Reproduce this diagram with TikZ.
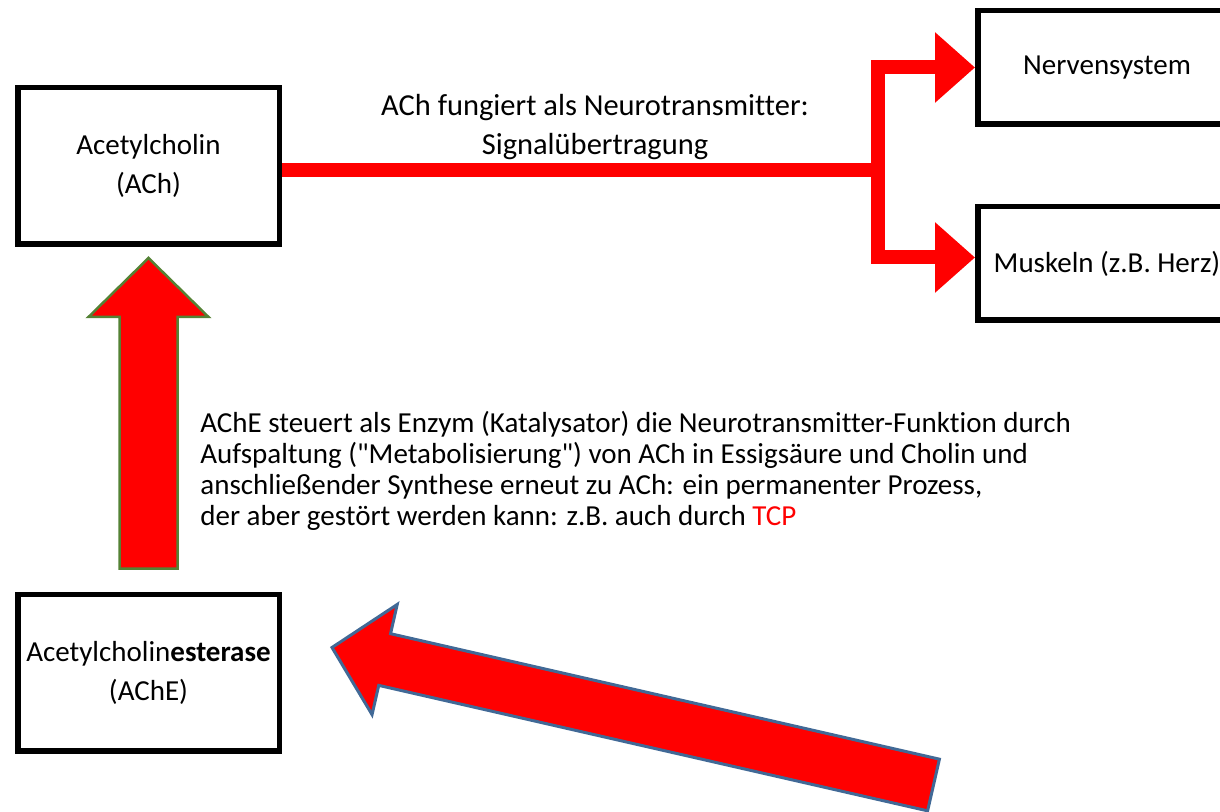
\documentclass[tikz,border=0pt]{standalone}
\usepackage{fontspec}
\setmainfont{Carlito}[Ligatures={TeX,NoCommon}]
\usetikzlibrary{arrows.meta}
\usetikzlibrary{calc}
\definecolor{leafgreen}{RGB}{84,130,53}
\definecolor{slateblue}{RGB}{65,105,150}

\begin{document}
\begin{tikzpicture}[x=0.5pt, y=-0.5pt,
	every node/.style={font=\fontsize{14.5}{19.5}\selectfont},
	box/.style={draw, line width=2.75pt, align=center, inner sep=0pt, minimum width=130.75pt, minimum height=78.25pt},
	organ/.style={box, minimum width=129.25pt, minimum height=56.75pt},
	signal/.style={draw=red, line width=7pt, line join=miter, -{Triangle[width=34pt,length=20pt]}},
	blockarrow/.style={fill=red, line join=miter}]
	\useasboundingbox (0,0) rectangle (1220,812);

	\node[box] (ach) at (148.5,166) {Acetylcholin\\(ACh)};
	\node[box] (ache) at (148.5,672.5) {Acetylcholin\textbf{esterase}\\(AChE)};
	\node[organ] (nerv) at (1107,67.5) {Nervensystem};
	\node[organ] (musk) at (1107,263.5) {Muskeln (z.B. Herz)};

	\coordinate (split) at (878,170);
	\draw[signal] ([yshift=-2pt]ach.east) -- (split) |- (nerv.west);
	\draw[signal] (split) |- ([yshift=3pt]musk.west);
	\node[inner sep=0pt, align=center, font=\fontsize{15.25}{19.5}\selectfont] (signaltext) at (595,127)
		{ACh fungiert als Neurotransmitter:\\Signalübertragung};

	\coordinate (uptip) at ($(ach.south)+(0,11)$);
	\coordinate (upfoot) at ($(ache.north)+(0,-23)$);
	\draw[blockarrow, draw=leafgreen, line width=1.25pt] ($(upfoot)+(-29,0)$) -- ($(uptip)+(-29,59)$) -- ($(uptip)+(-60,59)$) -- (uptip)
		-- ($(uptip)+(60,59)$) -- ($(uptip)+(29,59)$) -- ($(upfoot)+(29,0)$) -- cycle;

	\coordinate (tcptip) at ($(ache.east)+(50,-25)$);
	\coordinate (tcptail) at (933.5,785);
	\coordinate (tcphead) at ($(tcptip)!27pt!(tcptail)$);
	\draw[blockarrow, draw=slateblue, line width=1.5pt] ($(tcptail)!13.25pt!90:(tcptip)$) -- ($(tcphead)!13.25pt!90:(tcptip)$)
		-- ($(tcphead)!28.25pt!90:(tcptip)$) -- (tcptip) -- ($(tcphead)!28.25pt!-90:(tcptip)$)
		-- ($(tcphead)!13.25pt!-90:(tcptip)$) -- ($(tcptail)!13.25pt!-90:(tcptip)$) -- cycle;

	\node[inner sep=0pt, align=left, anchor=north west, font=\fontsize{14.5}{15.5}\selectfont] (achetext) at (200,411)
		{AChE steuert als Enzym (Katalysator) die Neurotransmitter-Funktion durch\\
		Aufspaltung (\textquotedbl Metabolisierung\textquotedbl) von ACh in Essigsäure und Cholin und\\
		anschließender Synthese erneut zu ACh: ein permanenter Prozess,\\
		der aber gestört werden kann: z.B. auch durch \textcolor{red}{TCP}};
\end{tikzpicture}
\end{document}
